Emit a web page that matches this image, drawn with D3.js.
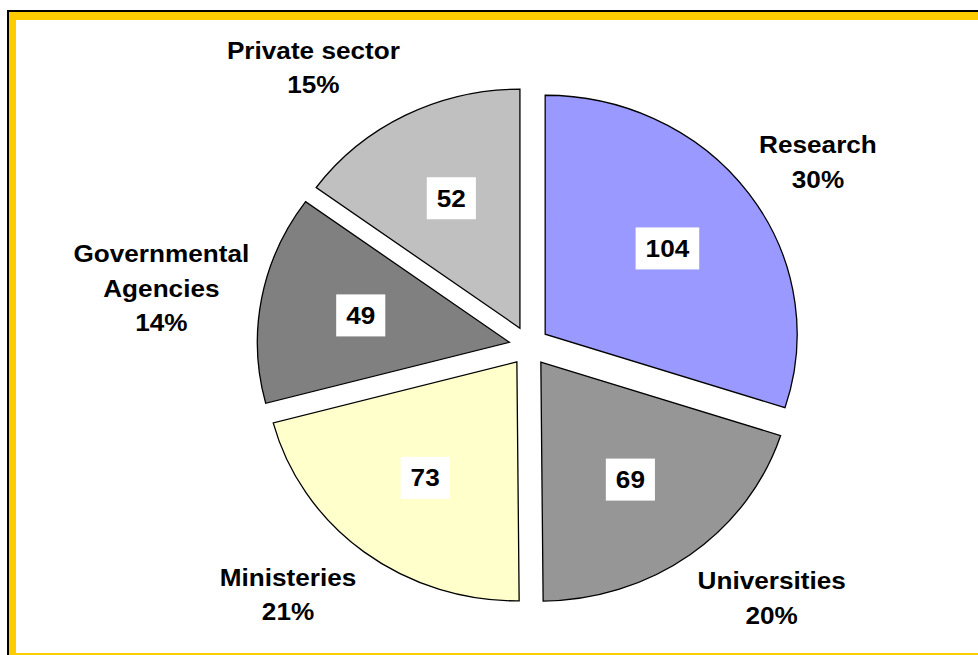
<!DOCTYPE html>
<html>
<head>
<meta charset="utf-8">
<script src="https://cdn.jsdelivr.net/npm/d3@7/dist/d3.min.js"></script>
<style>
  html, body { margin: 0; padding: 0; background: #ffffff; }
  svg { display: block; }
  text { font-family: "Liberation Sans", Arial, sans-serif; font-weight: bold; fill: #000; }
</style>
</head>
<body>
<svg id="chart" width="978" height="655"></svg>
<script>
// ---- data ----
const categories = ["Research", "Universities", "Ministeries", "Governmental Agencies", "Private sector"];
const labelLines = [["Research"], ["Universities"], ["Ministeries"], ["Governmental", "Agencies"], ["Private sector"]];
const values = [104, 69, 73, 49, 52];
const colors = ["#9999FF", "#969696", "#FFFFCC", "#808080", "#C0C0C0"];

// ---- layout ----
const W = 978, H = 655;
const cx = 529, cy = 346;      // pie centre
const rx = 252, ry = 239;      // slightly elliptical pie
const explode = 20;
const fontSize = 24;
const stretch = 1.09;          // text is drawn slightly wide
const lineGap = 34.5;

const svg = d3.select("#chart");

// frame: black outline, yellow band, white plot area
svg.append("rect").attr("x", 7).attr("y", 10).attr("width", 1000).attr("height", 700).attr("fill", "#000");
svg.append("rect").attr("x", 9).attr("y", 12).attr("width", 1000).attr("height", 700).attr("fill", "#FFCC00");
svg.append("rect").attr("x", 16).attr("y", 20).attr("width", 1000).attr("height", 633).attr("fill", "#fff");

const total = d3.sum(values);
const pie = d3.pie().sort(null).value(d => d).startAngle(0).endAngle(2 * Math.PI);
const arcs = pie(values);
const arc = d3.arc().innerRadius(0).outerRadius(ry);
const sx = rx / ry;

arcs.forEach(d => {
  d.mid = (d.startAngle + d.endAngle) / 2;
  d.tx = cx + explode * Math.sin(d.mid);
  d.ty = cy - explode * Math.cos(d.mid);
});

const slices = svg.append("g").selectAll("g.slice").data(arcs).join("g")
  .attr("class", "slice")
  .attr("transform", d => `translate(${d.tx},${d.ty}) scale(${sx},1)`);

slices.append("path")
  .attr("d", arc)
  .attr("fill", (d, i) => colors[i])
  .attr("stroke", "#000")
  .attr("stroke-width", 1.3)
  .attr("vector-effect", "non-scaling-stroke")
  .attr("stroke-linejoin", "miter");

function addText(g, s, y) {
  return g.append("text")
    .attr("text-anchor", "middle")
    .attr("dominant-baseline", "central")
    .attr("font-size", fontSize)
    .attr("transform", `translate(0,${y}) scale(${stretch},1)`)
    .text(s);
}

// value labels in white boxes
const inner = svg.append("g");
arcs.forEach((d, i) => {
  const x = d.tx + rx * Math.sin(d.mid) * 0.6;
  const y = d.ty - ry * Math.cos(d.mid) * 0.61;
  const g = inner.append("g").attr("transform", `translate(${x},${y})`);
  const rect = g.append("rect").attr("fill", "#fff");
  const t = addText(g, values[i], 0);
  const tw = t.node().getComputedTextLength() * stretch;
  const bw = tw + 20, bh = 42;
  rect.attr("x", -bw / 2).attr("y", -bh / 2).attr("width", bw).attr("height", bh);
});

// category labels outside the pie
const outer = svg.append("g");
arcs.forEach((d, i) => {
  const lines = labelLines[i].concat([Math.round(values[i] / total * 100) + "%"]);
  const g = outer.append("g");
  const texts = lines.map((s, j) => addText(g, s, (j - (lines.length - 1) / 2) * lineGap));
  const w = d3.max(texts, t => t.node().getComputedTextLength()) * stretch;
  const s = Math.sin(d.mid), c = Math.cos(d.mid);
  const x = d.tx + rx * s * 1.05 + Math.sign(s) * w / 2;
  const y = d.ty - c * ry * 1.225;
  g.attr("transform", `translate(${x},${y})`);
});
</script>
</body>
</html>
